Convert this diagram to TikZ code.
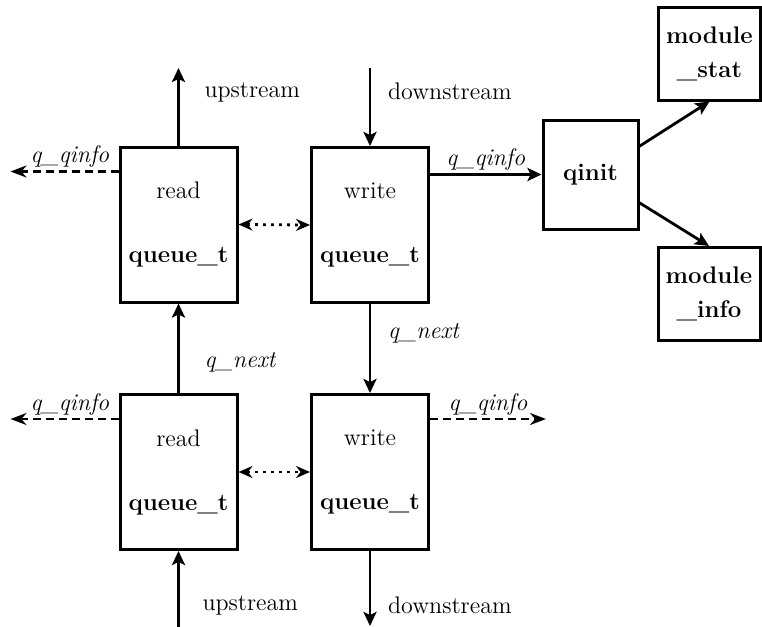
\documentclass[tikz,border=0pt]{standalone}
\usepackage{tikz}
\usetikzlibrary{arrows.meta, calc}
\tikzset{> = { Stealth[length = 7pt, width = 6.5pt, inset = 1.5pt] }}
\tikzset{
	qbox/.style = { draw, line width = 1.5pt, align = center, inner sep = 0pt,
		minimum width = 58.5pt, minimum height = 77.5pt },
	mbox/.style = { draw, line width = 1.5pt, align = center, inner sep = 0pt,
		minimum width = 51pt, minimum height = 46.5pt },
	infoline/.style = { dash pattern = on 4pt off 2.5pt,
		arrows = {-Stealth[open, length = 8pt, width = 6pt]} },
	peerline/.style = { dash pattern = on 1.4pt off 2.6pt,
		arrows = {Stealth[open, length = 7pt, width = 6pt]-Stealth[open, length = 7pt, width = 6pt]} }
}
\tikzstyle{every path} = [ line width = 1.4pt ]

\begin{document}
\begin{tikzpicture}[x = 0.5pt, y = -0.5pt, font = \fontsize{12}{14}\selectfont]
	\useasboundingbox (0, 0) rectangle (762, 627);

	\node [qbox] (rdTop) at (178.5, 224.5) {read\\[18pt]\textbf{queue\_t}};
	\node [qbox] (wrTop) at (370, 225) {write\\[18pt]\textbf{queue\_t}};
	\node [qbox] (rdBot) at (178.5, 472) {read\\[18pt]\textbf{queue\_t}};
	\node [qbox] (wrBot) at (370, 472) {write\\[18pt]\textbf{queue\_t}};

	\node [mbox, minimum width = 47.5pt, minimum height = 54.5pt] (qinit) at (590.5, 174.5) {\textbf{qinit}};
	\node [mbox] (mstat) at (709.5, 53.5) {\textbf{module}\\[3pt]\textbf{\_stat}};
	\node [mbox] (minfo) at (709, 294) {\textbf{module}\\[3pt]\textbf{\_info}};

	% Top row.
	\coordinate (upT) at (178.5, 68);
	\coordinate (dnT) at (370, 68);
	\draw [->] (rdTop.north) to node [pos = 0.69, right, xshift = 9pt] (lUpT) {upstream} (upT);
	\draw [->] (dnT) to node [pos = 0.3, right, xshift = 5pt] (lDnT) {downstream} (wrTop.north);

	\coordinate (qiTL) at ($(rdTop.north west) + (-108, 26)$);
	\draw [infoline] ($(rdTop.north west) + (0, 26)$)
		to node [pos = 0.45, above, yshift = -2pt] (lQiTL) {\textit{q\_qinfo}} (qiTL);
	\draw [peerline] (rdTop.east) to (wrTop.west);
	\draw [->] (qinit.west -| wrTop.east)
		to node [above, yshift = -2pt] (lQiTR) {\textit{q\_qinfo}} (qinit.west);

	\draw [->] (qinit.30) to (mstat.south);
	\draw [->] (qinit.-30) to (minfo.north);

	% q_next links.
	\draw [->] (wrTop.south) to node [pos = 0.33, right, xshift = 5pt] (lNxR) {\textit{q\_next}} (wrBot.north);
	\draw [->] (rdBot.north) to node [pos = 0.34, right, xshift = 9pt] (lNxL) {\textit{q\_next}} (rdTop.south);

	% Bottom row.
	\coordinate (qiBL) at ($(rdBot.north west) + (-108, 26)$);
	\coordinate (qiBR) at ($(wrBot.north east) + (116, 26)$);
	\draw [infoline] ($(rdBot.north west) + (0, 26)$)
		to node [pos = 0.45, above, yshift = -2pt] (lQiBL) {\textit{q\_qinfo}} (qiBL);
	\draw [peerline] (rdBot.east) to (wrBot.west);
	\draw [infoline] ($(wrBot.north east) + (0, 26)$)
		to node [pos = 0.5, above, yshift = -2pt] (lQiBR) {\textit{q\_qinfo}} (qiBR);

	\coordinate (upB) at (178.5, 627);
	\coordinate (dnB) at (370, 626);
	\draw [->] (upB) to node [pos = 0.28, right, xshift = 8pt] (lUpB) {upstream} (rdBot.south);
	\draw [->] (wrBot.south) to node [pos = 0.72, right, xshift = 5pt] (lDnB) {downstream} (dnB);
\end{tikzpicture}
\end{document}
